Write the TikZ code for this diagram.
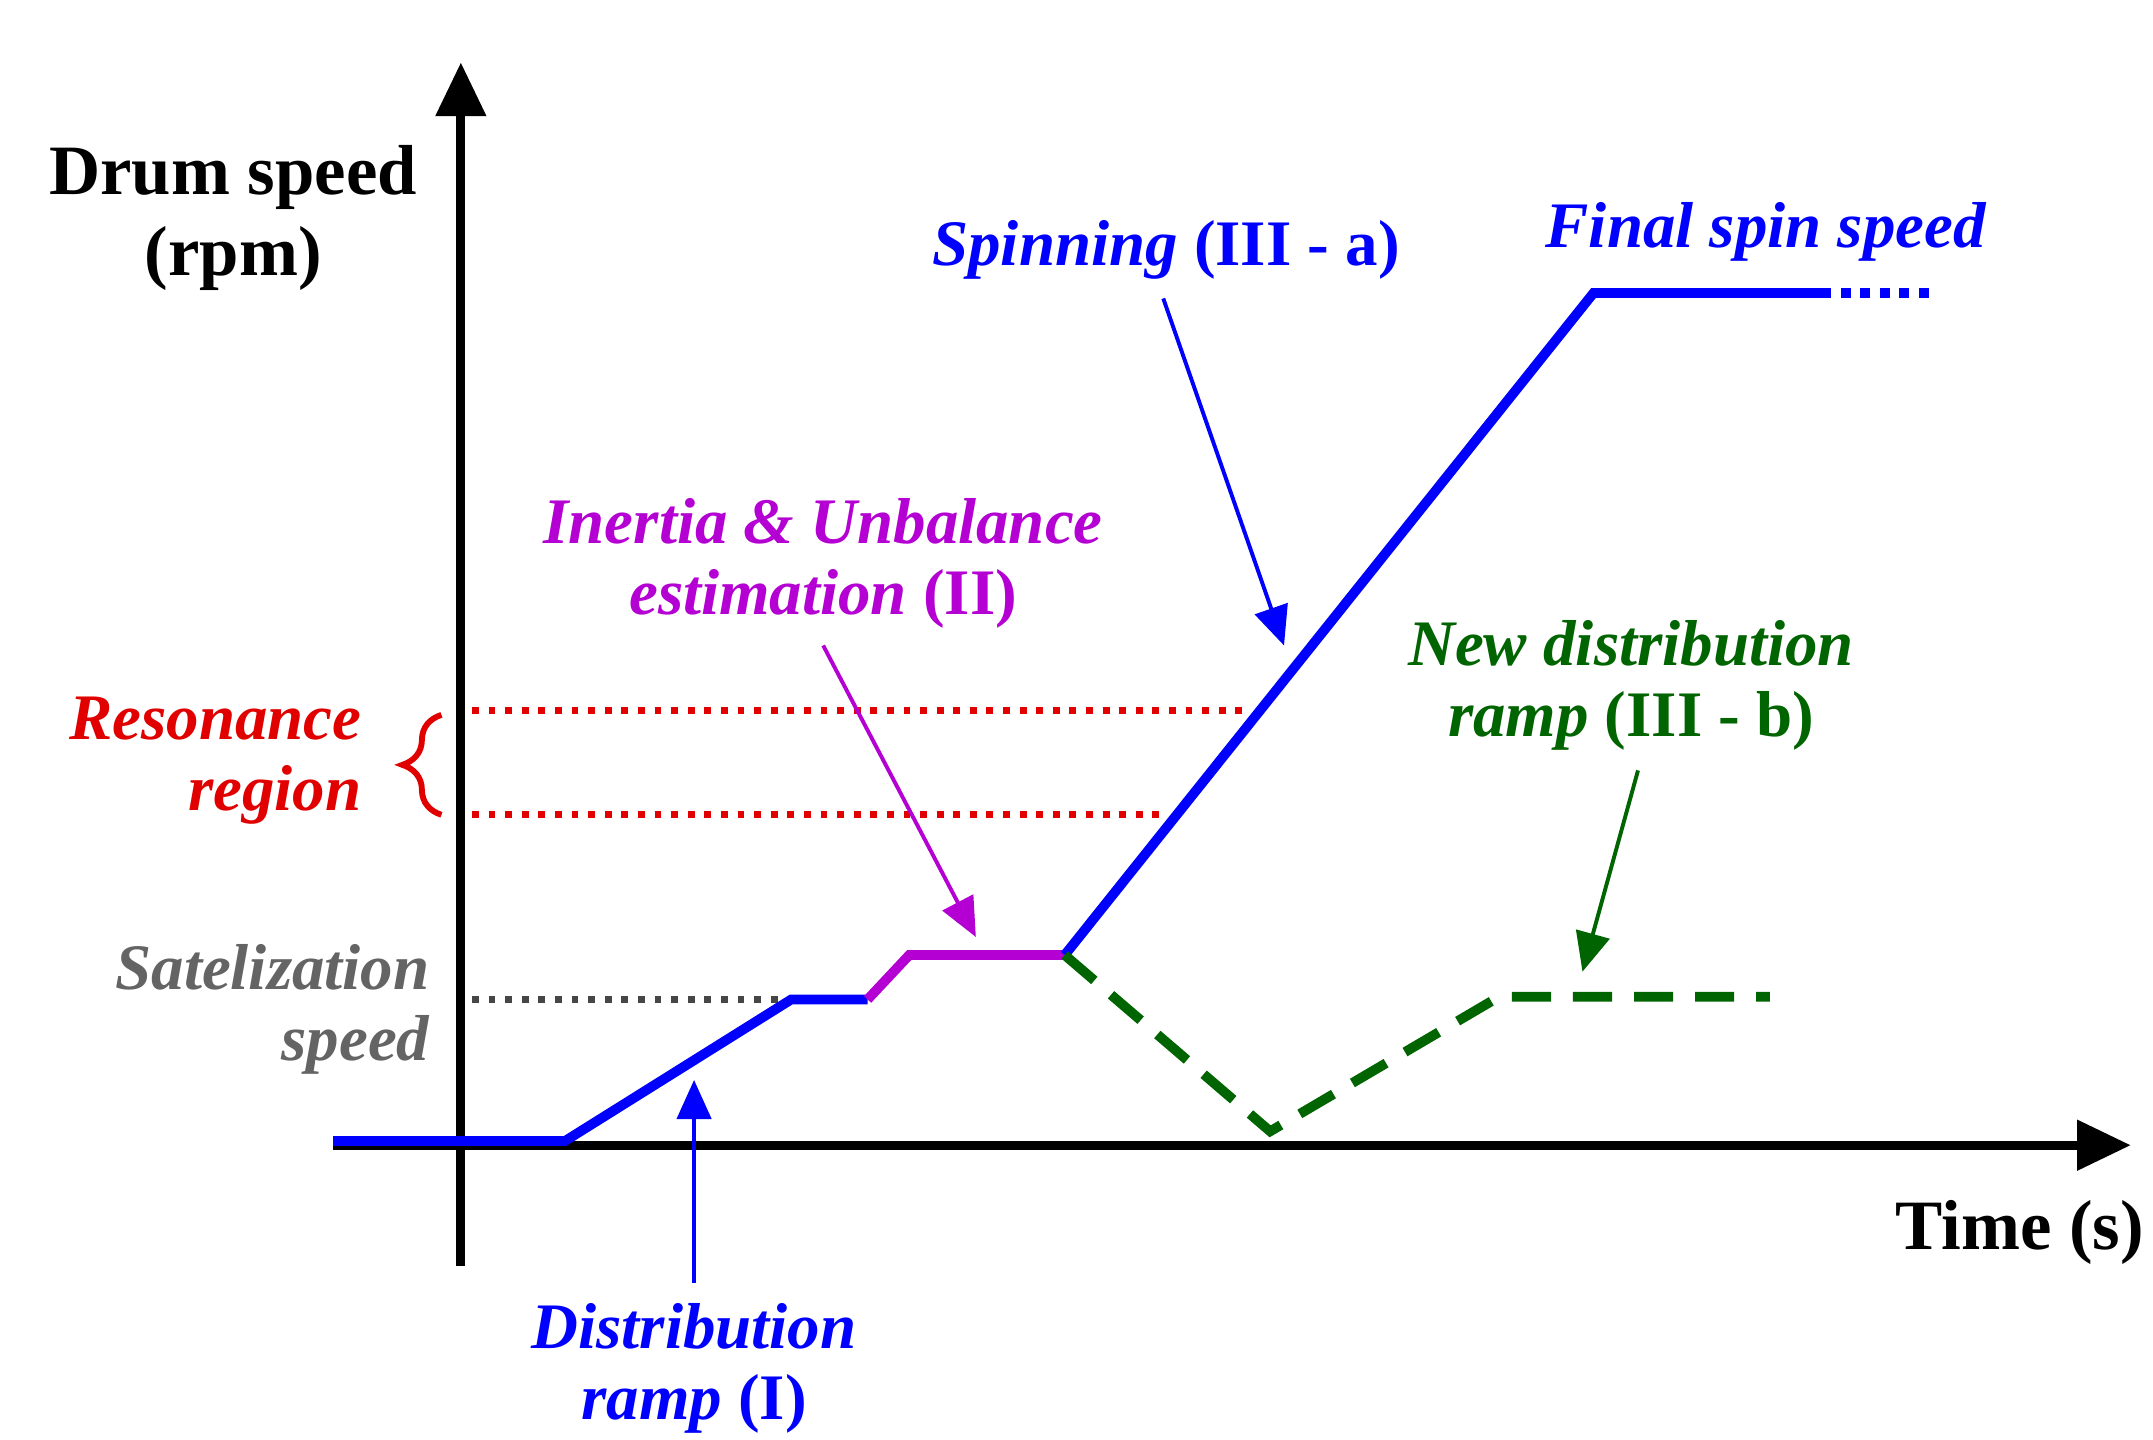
\documentclass[tikz,border=0pt]{standalone}
\usepackage{fontspec}
\setmainfont{Liberation Serif}
\usetikzlibrary{arrows.meta,decorations.pathreplacing}
\definecolor{cb}{RGB}{0,0,255}
\definecolor{cp}{RGB}{180,0,210}
\definecolor{cg}{RGB}{0,100,0}
\definecolor{cr}{RGB}{225,0,0}
\definecolor{cgr}{RGB}{100,100,100}
\begin{document}
\begin{tikzpicture}[x=0.01cm,y=-0.01cm,
  lab/.style={font=\fontsize{13.3}{14.5}\selectfont\bfseries\itshape,align=center,inner sep=0pt},
  ax/.style={line width=1.8pt,-{Triangle[length=11pt,width=10pt]}},
  prof/.style={line width=2pt},
  dot/.style={line width=1.4pt,dotted},
  ptr/.style={line width=0.8pt,-{Triangle[length=8pt,width=7pt]}}]
\useasboundingbox (0,0) rectangle (1551,1037);
% axes
\coordinate (yb) at (332,912); \coordinate (yt) at (332,45);
\coordinate (xl) at (240,825); \coordinate (xr) at (1535,825);
\draw[ax] (yb) -- (yt);
\draw[ax] (xl) -- (xr);
% guide lines
\coordinate (r1a) at (340,512); \coordinate (r1b) at (900,512);
\coordinate (r2a) at (340,587); \coordinate (r2b) at (840,587);
\coordinate (sa) at (340,720); \coordinate (sb) at (565,720);
\draw[dot,cr] (r1a) -- (r1b);
\draw[dot,cr] (r2a) -- (r2b);
\draw[dot,cgr!70!black] (sa) -- (sb);
% profile
\coordinate (p0) at (240,822); \coordinate (p1) at (407,822);
\coordinate (p2) at (570,720); \coordinate (p3) at (625,720);
\coordinate (p4) at (655,688); \coordinate (p5) at (767,688);
\coordinate (p6) at (1148,211); \coordinate (p7) at (1312,211);
\coordinate (p8) at (1395,211);
\draw[prof,cb] (p0) -- (p1) -- (p2) -- (p3);
\draw[prof,cp] (p3) -- (p4) -- (p5);
\draw[prof,cb] (p5) -- (p6) -- (p7);
\draw[prof,cb,dotted] (p7) -- (p8);
\coordinate (g1) at (915,815); \coordinate (g2) at (1080,718); \coordinate (g3) at (1275,718);
\draw[prof,cg,dash pattern=on 8pt off 4.5pt] (p5) -- (g1) -- (g2) -- (g3);
% brace
\draw[cr,line width=1.2pt,decorate,decoration={brace,amplitude=8pt}] (318,587) -- (318,515);
% labels
\node[lab,font=\fontsize{14.5}{16.5}\selectfont\bfseries] (dr) at (168,157) {Drum speed\\(rpm)};
\node[lab,font=\fontsize{14.5}{16}\selectfont\bfseries] (tm) at (1455,888) {Time (s)};
\node[lab,cb] (sp) at (840,180) {Spinning \textup{(III - a)}};
\node[lab,cb] (fs) at (1272,167) {Final spin speed};
\node[lab,cp] (in) at (593,406) {Inertia \& Unbalance\\estimation \textup{(II)}};
\node[lab,cr,align=right,anchor=east] (rr) at (261,548) {Resonance\\region};
\node[lab,cgr,align=right,anchor=east] (sz) at (310,727) {Satelization\\speed};
\node[lab,cg] (nd) at (1175,494) {New distribution\\ramp \textup{(III - b)}};
\node[lab,cb] (di) at (500,986) {Distribution\\ramp \textup{(I)}};
% pointers
\coordinate (a1) at (925,465); \coordinate (a2) at (703,675);
\coordinate (a3) at (1140,700); \coordinate (a4) at (500,778);
\draw[ptr,cb] (838,215) -- (a1);
\draw[ptr,cp] (593,465) -- (a2);
\draw[ptr,cg] (1180,555) -- (a3);
\draw[ptr,cb] (500,924) -- (a4);
\end{tikzpicture}
\end{document}
